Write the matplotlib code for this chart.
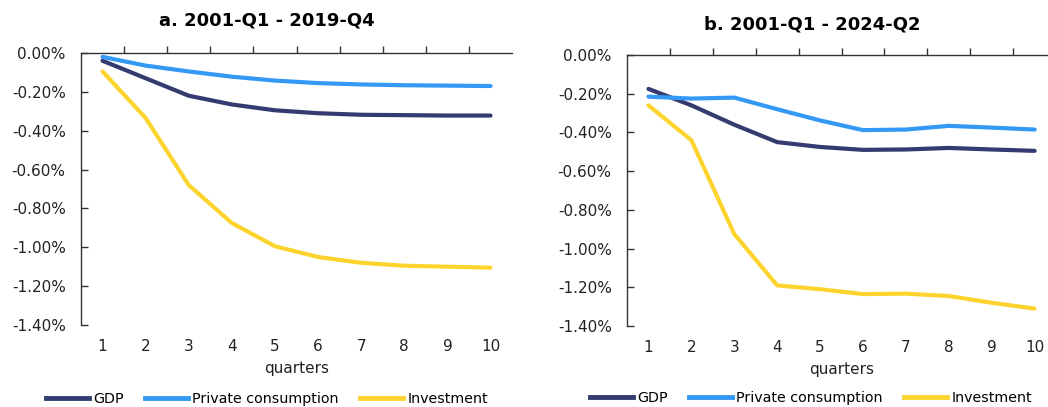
import matplotlib
matplotlib.use("Agg")
import matplotlib.pyplot as plt
from matplotlib.lines import Line2D
from matplotlib.ticker import FuncFormatter

plt.rcParams['font.family'] = ['DejaVu Sans']

quarters = list(range(1, 11))
series_names = ["GDP", "Private consumption", "Investment"]
colors = ["#333B70", "#3399F5", "#FDD42E"]

titles = ["a. 2001-Q1 - 2019-Q4", "b. 2001-Q1 - 2024-Q2"]

gdp_a = [-0.04, -0.13, -0.22, -0.265, -0.295, -0.31, -0.318, -0.32, -0.322, -0.322]
cons_a = [-0.02, -0.065, -0.095, -0.122, -0.142, -0.155, -0.162, -0.166, -0.168, -0.17]
inv_a = [-0.095, -0.335, -0.68, -0.875, -0.995, -1.05, -1.08, -1.095, -1.10, -1.105]

gdp_b = [-0.175, -0.26, -0.36, -0.45, -0.475, -0.49, -0.488, -0.48, -0.488, -0.495]
cons_b = [-0.215, -0.225, -0.22, -0.28, -0.338, -0.388, -0.385, -0.366, -0.375, -0.385]
inv_b = [-0.26, -0.44, -0.925, -1.19, -1.21, -1.235, -1.233, -1.245, -1.28, -1.31]

panels = [[gdp_a, cons_a, inv_a], [gdp_b, cons_b, inv_b]]
yticks = [0.0, -0.2, -0.4, -0.6, -0.8, -1.0, -1.2, -1.4]

fig = plt.figure(figsize=(10.48, 4.07), dpi=100)
positions = [[0.0773, 0.2015, 0.4113, 0.6683], [0.5983, 0.199, 0.4094, 0.6658]]
title_y = [20, 24]
title_x = [267, 812]
legend_x = [48, 592]
legend_y = [399, 398]

for i, (pos, data) in enumerate(zip(positions, panels)):
    ax = fig.add_axes(pos)
    for vals, c, name in zip(data, colors, series_names):
        ax.plot(quarters, vals, color=c, lw=3.0, solid_capstyle='round')
    ax.set_xlim(0.5, 10.5)
    ax.set_ylim(-1.4, 0.0)
    ax.set_yticks(yticks)
    ax.yaxis.set_major_formatter(FuncFormatter(lambda v, p: f"{v:.2f}%"))
    ax.set_xticks(quarters)
    ax.set_xticks([q + 0.5 for q in quarters[:-1]], minor=True)
    ax.tick_params(axis='x', which='major', length=0, labelsize=11, pad=10, colors='#222222')
    ax.tick_params(axis='x', which='minor', top=True, bottom=False, direction='out', length=5, width=1, color='#333333')
    ax.tick_params(axis='y', which='major', direction='in', length=5, width=1, labelsize=11, pad=11, color='#333333', labelcolor='#222222')
    for s in ['right', 'bottom']:
        ax.spines[s].set_visible(False)
    for s in ['left', 'top']:
        ax.spines[s].set_color('#333333')
        ax.spines[s].set_linewidth(1.0)
    ax.set_xlabel("quarters", fontsize=11, labelpad=5, color='#222222')
    fig.text(title_x[i] / 1048, 1 - title_y[i] / 407, titles[i], ha='center', va='center',
             fontsize=13, fontweight='bold')
    handles = [Line2D([], [], color=c, lw=3.5) for c in colors]
    fig.legend(handles, series_names, loc='center left',
               bbox_to_anchor=(legend_x[i] / 1048 - 0.002, 1 - legend_y[i] / 407),
               ncol=3, frameon=False, fontsize=10.3, handlelength=3.0, handletextpad=0.3,
               columnspacing=1.5, borderaxespad=0, borderpad=0)

fig.savefig("out.png", dpi=100)
